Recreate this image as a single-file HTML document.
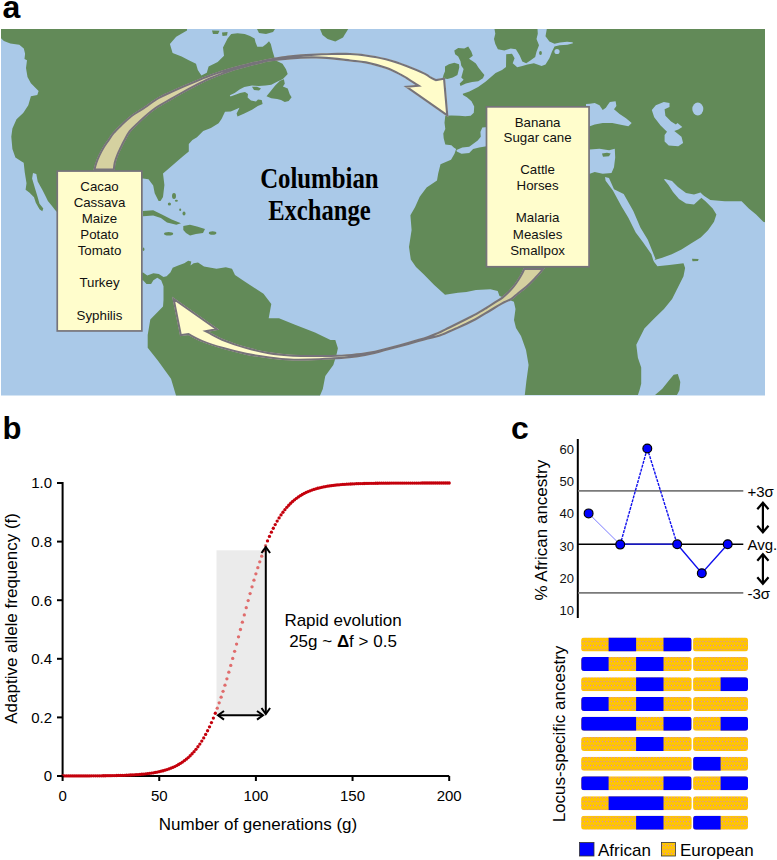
<!DOCTYPE html>
<html><head><meta charset="utf-8"><style>
html,body{margin:0;padding:0;background:#fff;}
body{width:777px;height:860px;overflow:hidden;font-family:"Liberation Sans",sans-serif;}
svg{display:block;}
</style></head><body>
<svg width="777" height="860" viewBox="0 0 777 860">
<rect width="777" height="860" fill="#fff"/>
<defs>
<linearGradient id="ga" gradientUnits="userSpaceOnUse" x1="150" y1="120" x2="330" y2="55"><stop offset="0" stop-color="#d5d1a0"/><stop offset="0.7" stop-color="#e6e0b0"/><stop offset="1" stop-color="#fffcca"/></linearGradient>
<linearGradient id="gb" gradientUnits="userSpaceOnUse" x1="500" y1="300" x2="300" y2="355"><stop offset="0" stop-color="#d5d1a0"/><stop offset="0.5" stop-color="#e2dcab"/><stop offset="1" stop-color="#fffcca"/></linearGradient>
</defs>
<filter id="soft" x="-2%" y="-2%" width="104%" height="104%"><feGaussianBlur stdDeviation="0.55"/></filter>
<g filter="url(#soft)">
<rect x="1" y="29" width="764" height="366.5" fill="#aac9e8"/>
<polygon points="1.0,29.0 187.0,29.0 187.0,30.5 176.2,36.8 169.9,44.0 172.6,53.0 181.6,56.6 188.8,60.2 196.0,63.8 197.8,70.1 201.4,75.5 206.8,72.8 208.6,66.5 217.7,62.0 224.0,55.7 223.0,47.6 227.6,38.6 231.2,34.1 237.5,33.2 244.7,34.1 250.0,36.0 254.6,38.6 255.5,42.2 257.3,46.7 262.7,46.7 266.3,44.0 269.0,41.3 270.8,44.0 272.6,51.2 275.3,60.2 282.5,63.8 286.0,69.2 287.7,74.0 286.8,75.0 282.9,78.9 277.1,81.8 271.3,84.7 265.5,85.6 258.8,86.1 252.0,85.6 244.3,87.1 239.5,89.5 234.7,92.9 229.8,95.3 230.5,96.5 236.0,94.5 240.0,93.0 245.0,92.0 248.0,94.0 247.6,97.5 251.0,100.5 256.0,101.5 258.0,99.5 261.7,100.1 262.6,104.0 257.8,105.9 252.0,109.7 244.3,113.6 237.5,116.5 236.6,113.6 239.5,107.8 230.8,111.5 225.0,111.7 221.7,118.7 218.6,123.3 210.9,128.0 203.2,131.0 197.0,137.2 192.4,140.0 188.8,143.9 188.8,151.6 182.4,156.7 172.0,165.7 163.0,173.5 164.4,185.0 163.0,197.0 160.5,201.0 158.6,200.9 154.7,193.2 153.2,185.4 148.5,179.3 143.0,178.6 120.0,180.0 75.0,200.0 57.0,212.0 55.3,210.2 51.6,205.6 47.9,200.9 45.1,195.3 42.3,189.8 37.7,181.4 36.3,174.0 33.0,173.0 32.1,178.6 34.9,187.9 37.7,197.2 39.5,203.7 43.3,208.4 42.3,211.2 39.5,209.3 35.8,202.8 34.0,197.2 29.3,192.6 25.6,189.8 26.5,183.3 24.7,172.1 23.7,162.8 21.6,161.5 15.4,157.4 12.4,149.1 11.3,136.8 12.4,128.5 16.5,119.3 23.2,113.0 28.3,105.2 30.9,96.2 37.3,94.9 38.6,91.0 30.9,83.3 27.5,77.0 26.0,68.0 27.0,60.2 24.5,58.9 25.1,53.7 23.8,48.6 19.3,44.7 10.3,43.4 3.9,40.9 1.0,38.3 1.0,30.0" fill="#628a58" />
<polygon points="266.5,96.2 270.4,91.4 275.2,85.6 280.0,80.8 283.9,79.3 284.8,83.7 282.9,86.6 287.7,88.5 289.7,94.3 291.6,97.2 288.7,101.0 284.8,102.0 281.0,100.1 277.1,99.1 271.3,98.2" fill="#628a58" />
<polygon points="252.0,86.8 257.0,86.8 261.0,88.5 259.0,90.5 254.0,90.0" fill="#628a58" />
<polygon points="320.0,29.0 348.2,29.0 343.0,37.6 335.3,41.4 327.6,38.9 322.5,35.0" fill="#628a58" />
<polygon points="212.0,30.5 219.5,30.8 218.0,34.0 213.0,34.0" fill="#628a58" />
<polygon points="222.0,32.5 227.6,32.0 227.0,35.5 222.5,36.0" fill="#628a58" />
<polygon points="257.0,29.0 275.0,29.0 273.0,32.0 266.0,34.0 259.0,33.0" fill="#628a58" />
<polygon points="546.8,29.0 765.0,29.0 765.0,222.3 763.3,221.7 756.1,214.5 748.8,208.5 741.6,201.3 724.8,201.3 710.3,200.1 703.5,195.5 701.0,197.5 705.5,201.3 712.7,208.5 716.4,214.5 714.0,221.7 708.0,230.2 700.7,237.4 691.0,243.4 681.5,249.4 671.8,254.2 662.2,257.8 653.8,260.3 653.8,261.5 657.4,266.3 669.4,265.1 683.5,263.3 685.1,268.1 683.5,276.3 677.0,289.3 672.1,299.1 664.0,308.9 654.2,318.6 644.4,328.4 639.5,338.2 636.3,344.7 637.9,357.7 641.2,367.5 641.2,383.8 639.5,390.3 637.9,395.0 524.8,395.0 526.3,381.8 528.6,365.0 526.0,350.0 521.0,336.0 516.0,328.0 514.0,320.0 515.5,309.0 513.9,301.8 505.0,298.0 499.5,296.0 497.7,291.0 490.4,289.2 476.0,290.0 466.4,292.0 458.0,292.8 445.0,294.8 434.2,284.9 423.4,274.0 416.0,267.0 410.8,259.6 409.0,247.0 411.6,230.0 410.4,215.3 415.0,207.2 419.7,196.7 426.6,187.5 437.0,180.5 438.2,173.6 440.5,164.3 451.0,159.7 454.5,153.7 456.1,149.1 453.8,147.5 451.4,145.2 445.3,144.4 443.7,138.2 443.3,133.6 445.3,129.0 444.5,122.8 445.3,115.8 451.4,115.5 459.2,115.8 465.3,116.2 470.7,115.8 473.8,112.8 474.2,106.6 471.5,101.2 466.9,97.3 463.0,95.0 462.8,93.7 469.4,91.5 478.1,87.0 485.8,81.6 495.6,72.9 502.0,70.0 506.0,67.0 506.2,54.3 512.0,53.7 514.6,58.2 512.7,63.3 517.2,67.2 522.3,65.9 527.5,64.6 533.9,63.3 541.6,65.9 545.5,64.6 549.4,58.2 551.9,51.7 554.5,46.6 559.6,45.3 567.4,44.7 573.0,43.2 572.5,42.2 567.0,41.8 560.0,42.6 554.5,43.8 549.4,41.4 545.5,36.3 546.8,29.0" fill="#628a58" />
<polygon points="454.3,50.4 458.2,48.0 464.3,48.4 468.2,46.5 471.3,51.5 472.8,55.8 469.0,58.8 472.8,61.2 475.9,63.5 478.2,67.3 481.3,71.2 484.4,75.1 482.9,78.2 478.2,81.2 472.1,82.0 465.9,83.6 460.5,85.9 459.7,83.6 463.6,79.7 461.3,77.4 462.8,72.0 463.6,68.9 461.3,65.8 460.5,61.2 458.2,56.5 455.1,54.2" fill="#628a58" />
<polygon points="445.0,66.6 448.9,64.3 454.3,62.7 459.0,64.3 459.3,67.3 458.2,72.0 457.4,75.1 452.8,77.4 447.4,78.9 442.7,78.2 443.5,75.1 445.0,71.2" fill="#628a58" />
<polygon points="494.5,29.0 537.5,29.0 537.8,33.7 536.5,38.9 539.0,45.3 536.5,51.7 535.2,56.9 530.0,60.7 526.2,63.3 522.3,61.4 519.7,55.6 515.9,49.2 510.7,48.5 504.3,50.5 497.9,49.2 495.3,44.0 494.0,38.9 495.3,33.7" fill="#628a58" />
<polygon points="135.0,272.4 143.0,272.4 147.3,275.5 153.4,273.2 158.8,274.0 163.5,277.1 166.6,276.3 170.4,272.4 172.7,267.8 178.2,265.5 184.3,263.2 188.2,260.8 191.3,261.6 190.5,265.5 193.6,263.2 198.0,262.4 204.0,266.5 216.5,268.8 225.8,267.3 232.0,268.8 235.0,275.0 244.3,281.2 250.0,285.0 263.5,293.8 271.3,304.0 268.7,318.2 279.0,318.2 294.4,324.6 315.0,332.4 330.5,340.0 335.3,340.0 337.9,348.2 336.3,355.4 333.3,365.0 325.3,376.0 322.8,389.0 320.0,395.5 176.0,395.5 171.0,378.7 158.0,360.7 147.7,347.8 147.7,335.0 150.3,319.5 163.0,306.6 163.5,300.0 163.5,286.3 161.2,280.2 157.3,277.8 153.4,280.2 151.1,284.0 146.5,284.0 143.0,280.2 135.0,280.0" fill="#628a58" />
<polygon points="143.0,211.0 153.2,210.2 162.4,214.8 171.7,219.4 181.0,223.3 176.3,224.8 167.0,222.5 160.9,217.9 153.2,215.6 143.0,216.3" fill="#628a58" />
<polygon points="183.3,226.0 190.0,224.8 197.0,226.5 205.0,229.0 203.0,233.0 196.0,234.0 190.0,235.6 186.0,233.0 183.3,230.0" fill="#628a58" />
<polygon points="655.0,395.0 662.3,388.7 668.9,380.5 673.7,374.8 677.8,374.0 680.3,382.1 679.4,390.3 677.0,395.0" fill="#628a58" />
<polygon points="692.0,258.7 698.6,259.0 698.0,261.0 692.5,261.2" fill="#628a58" />
<polygon points="456.5,150.0 462.3,147.5 469.2,146.7 472.3,144.4 477.7,140.6 480.8,136.7 480.4,132.0 482.3,127.4 488.0,127.0 488.0,146.0 479.2,147.5 473.1,149.0 469.2,152.9 461.5,153.7 456.8,151.4" fill="#aac9e8" />
<polygon points="586.0,149.5 589.8,149.5 599.5,148.7 609.1,150.3 614.8,148.7 615.2,157.6 614.0,167.2 611.5,172.9 602.7,173.7 594.7,172.0 589.8,173.7 586.0,173.7" fill="#aac9e8" />
<polygon points="586.0,104.0 589.8,103.7 594.7,102.9 599.5,105.3 602.7,110.1 605.9,107.7 607.5,105.3 609.9,102.1 615.6,101.3 616.4,106.1 614.0,109.3 619.6,114.1 626.0,118.2 631.7,123.0 628.4,126.2 622.0,125.1 612.3,123.0 602.7,123.0 594.7,124.6 589.8,126.2 586.0,126.5" fill="#aac9e8" />
<polygon points="651.8,110.1 655.8,105.3 663.8,102.1 669.5,102.9 669.5,106.9 664.6,109.3 665.4,115.7 671.1,121.4 675.9,124.6 677.5,123.0 682.3,127.0 678.3,129.4 674.3,131.0 681.5,136.7 683.1,143.1 678.3,146.3 668.7,145.5 664.6,141.5 664.6,135.0 667.0,131.8 660.6,125.4 654.2,117.3" fill="#aac9e8" />
<polygon points="605.0,177.0 605.6,180.8 612.9,190.5 621.3,206.1 628.5,218.1 635.7,232.6 643.0,242.2 651.4,254.2 653.5,261.0 655.5,259.0 652.6,251.8 647.8,239.8 640.5,227.8 633.3,210.9 623.7,194.0 614.0,189.3 609.0,178.0" fill="#aac9e8" />
<polygon points="665.0,179.0 672.0,181.0 678.0,187.0 686.0,193.0 694.0,194.5 700.5,192.5 704.0,196.0 700.0,199.0 694.0,204.5 686.0,203.5 679.0,199.0 673.0,192.0 668.5,185.0 664.0,179.5" fill="#aac9e8" />
<ellipse cx="697.8" cy="109" rx="5.5" ry="6.5" fill="#aac9e8"/>
<ellipse cx="557" cy="51.5" rx="2.6" ry="2.6" fill="#aac9e8"/>
<ellipse cx="540.5" cy="53" rx="1.4" ry="2" fill="#628a58"/>
<polygon points="602.0,153.5 607.0,152.7 610.7,153.5 609.0,156.3 603.0,156.8" fill="#628a58" />
<ellipse cx="143.5" cy="249.2" rx="0.9" ry="1.8" fill="#628a58"/>
<ellipse cx="168.6" cy="233.7" rx="4.6" ry="1.8" fill="#628a58"/>
<ellipse cx="212.6" cy="233" rx="3.8" ry="1.8" fill="#628a58"/>
<ellipse cx="174" cy="196" rx="2" ry="3" fill="#628a58"/>
<ellipse cx="169.4" cy="204" rx="1.6" ry="1.5" fill="#628a58"/>
<ellipse cx="176.4" cy="200.8" rx="1.5" ry="1" fill="#628a58"/>
<ellipse cx="180.2" cy="209.8" rx="1" ry="1.3" fill="#628a58"/>
<ellipse cx="184" cy="213.6" rx="1.5" ry="2" fill="#628a58"/>
</g>
<clipPath id="cU"><path d="M93.10,170.50 C93.45,169.23 94.33,165.45 95.20,162.90 C96.07,160.35 97.10,157.78 98.30,155.20 C99.50,152.62 100.85,149.98 102.40,147.40 C103.95,144.82 105.88,142.18 107.60,139.70 C109.32,137.22 110.58,135.00 112.70,132.50 C114.82,130.00 117.32,127.55 120.30,124.70 C123.28,121.85 127.17,118.05 130.60,115.40 C134.03,112.75 138.50,110.37 140.90,108.80 C143.30,107.23 142.17,107.93 145.00,106.00 C147.83,104.07 153.62,99.68 157.90,97.20 C162.18,94.72 166.42,93.08 170.70,91.10 C174.98,89.12 179.43,87.12 183.60,85.30 C187.77,83.48 191.53,81.90 195.70,80.20 C199.87,78.50 204.30,76.70 208.60,75.10 C212.90,73.50 217.20,72.00 221.50,70.60 C225.80,69.20 230.12,67.88 234.40,66.70 C238.68,65.52 242.92,64.55 247.20,63.50 C251.48,62.45 256.30,61.25 260.10,60.40 C263.90,59.55 264.92,59.25 270.00,58.40 C275.08,57.55 283.73,56.07 290.60,55.30 C297.47,54.53 304.33,54.18 311.20,53.80 C318.07,53.42 325.33,53.13 331.80,53.00 C338.27,52.87 344.37,52.77 350.00,53.00 C355.63,53.23 359.57,53.52 365.60,54.40 C371.63,55.28 379.33,56.53 386.20,58.30 C393.07,60.07 400.33,62.60 406.80,65.00 C413.27,67.40 420.97,70.78 425.00,72.70 C429.03,74.62 429.17,75.45 431.00,76.50 C432.83,77.55 435.17,78.58 436.00,79.00 L445.00,77.50 L448.50,117.50 L403.50,85.90 L415.50,85.00 L415.50,85.00 C414.33,84.25 410.82,81.95 408.50,80.50 C406.18,79.05 405.32,78.20 401.60,76.30 C397.88,74.40 392.20,71.25 386.20,69.10 C380.20,66.95 371.63,64.67 365.60,63.40 C359.57,62.13 355.63,62.17 350.00,61.50 C344.37,60.83 338.27,59.92 331.80,59.40 C325.33,58.88 318.07,58.40 311.20,58.40 C304.33,58.40 297.47,58.88 290.60,59.40 C283.73,59.92 275.08,60.77 270.00,61.50 C264.92,62.23 263.90,62.90 260.10,63.80 C256.30,64.70 251.48,65.77 247.20,66.90 C242.92,68.03 238.68,69.23 234.40,70.60 C230.12,71.97 225.80,73.50 221.50,75.10 C217.20,76.70 213.02,78.23 208.60,80.20 C204.18,82.17 199.17,84.77 195.00,86.90 C190.83,89.03 187.65,90.75 183.60,93.00 C179.55,95.25 174.98,97.93 170.70,100.40 C166.42,102.87 162.02,105.03 157.90,107.80 C153.78,110.57 149.27,114.27 146.00,117.00 C142.73,119.73 140.87,121.72 138.30,124.20 C135.73,126.68 132.80,129.05 130.60,131.90 C128.40,134.75 126.62,138.53 125.10,141.30 C123.58,144.07 122.62,146.18 121.50,148.50 C120.38,150.82 119.35,152.80 118.40,155.20 C117.45,157.60 116.40,160.35 115.80,162.90 C115.20,165.45 114.97,169.23 114.80,170.50 Z"/></clipPath><clipPath id="cL"><path d="M523.50,268.00 C523.12,268.83 522.22,271.10 521.20,273.00 C520.18,274.90 518.78,277.27 517.40,279.40 C516.02,281.53 514.52,283.77 512.90,285.80 C511.28,287.83 509.53,289.78 507.70,291.60 C505.87,293.42 504.18,295.00 501.90,296.70 C499.62,298.40 496.82,299.98 494.00,301.80 C491.18,303.62 488.00,305.73 485.00,307.60 C482.00,309.47 479.00,311.35 476.00,313.00 C473.00,314.65 470.00,316.00 467.00,317.50 C464.00,319.00 461.00,320.50 458.00,322.00 C455.00,323.50 452.00,325.00 449.00,326.50 C446.00,328.00 443.52,329.43 440.00,331.00 C436.48,332.57 433.13,334.12 427.90,335.90 C422.67,337.68 415.03,339.85 408.60,341.70 C402.17,343.55 395.73,345.35 389.30,347.00 C382.87,348.65 376.25,350.45 370.00,351.60 C363.75,352.75 358.27,353.35 351.80,353.90 C345.33,354.45 338.07,354.73 331.20,354.90 C324.33,355.07 317.47,354.98 310.60,354.90 C303.73,354.82 296.90,354.87 290.00,354.40 C283.10,353.93 276.53,353.37 269.20,352.10 C261.87,350.83 253.33,348.85 246.00,346.80 C238.67,344.75 231.37,342.32 225.20,339.80 C219.03,337.28 211.70,333.05 209.00,331.70 L219.40,329.80 L172.00,296.50 L180.00,336.30 L188.20,335.20 L188.20,335.20 C190.50,336.35 196.22,339.78 202.00,342.10 C207.78,344.42 215.57,346.97 222.90,349.10 C230.23,351.23 238.28,353.33 246.00,354.90 C253.72,356.47 261.87,357.55 269.20,358.50 C276.53,359.45 283.10,360.25 290.00,360.60 C296.90,360.95 303.73,360.77 310.60,360.60 C317.47,360.43 324.33,360.03 331.20,359.60 C338.07,359.17 345.33,358.77 351.80,358.00 C358.27,357.23 363.75,356.33 370.00,355.00 C376.25,353.67 382.87,351.67 389.30,350.00 C395.73,348.33 402.17,346.73 408.60,345.00 C415.03,343.27 422.67,341.02 427.90,339.60 C433.13,338.18 436.48,337.63 440.00,336.50 C443.52,335.37 446.00,334.08 449.00,332.80 C452.00,331.52 455.00,330.15 458.00,328.80 C461.00,327.45 464.00,326.13 467.00,324.70 C470.00,323.27 473.00,321.85 476.00,320.20 C479.00,318.55 482.00,316.60 485.00,314.80 C488.00,313.00 491.00,311.20 494.00,309.40 C497.00,307.60 500.07,305.57 503.00,304.00 C505.93,302.43 509.10,301.53 511.60,300.00 C514.10,298.47 515.85,296.52 518.00,294.80 C520.15,293.08 522.35,291.52 524.50,289.70 C526.65,287.88 528.98,285.73 530.90,283.90 C532.82,282.07 534.28,280.52 536.00,278.70 C537.72,276.88 539.70,274.78 541.20,273.00 C542.70,271.22 544.37,268.83 545.00,268.00 Z"/></clipPath>
<path d="M93.10,170.50 C93.45,169.23 94.33,165.45 95.20,162.90 C96.07,160.35 97.10,157.78 98.30,155.20 C99.50,152.62 100.85,149.98 102.40,147.40 C103.95,144.82 105.88,142.18 107.60,139.70 C109.32,137.22 110.58,135.00 112.70,132.50 C114.82,130.00 117.32,127.55 120.30,124.70 C123.28,121.85 127.17,118.05 130.60,115.40 C134.03,112.75 138.50,110.37 140.90,108.80 C143.30,107.23 142.17,107.93 145.00,106.00 C147.83,104.07 153.62,99.68 157.90,97.20 C162.18,94.72 166.42,93.08 170.70,91.10 C174.98,89.12 179.43,87.12 183.60,85.30 C187.77,83.48 191.53,81.90 195.70,80.20 C199.87,78.50 204.30,76.70 208.60,75.10 C212.90,73.50 217.20,72.00 221.50,70.60 C225.80,69.20 230.12,67.88 234.40,66.70 C238.68,65.52 242.92,64.55 247.20,63.50 C251.48,62.45 256.30,61.25 260.10,60.40 C263.90,59.55 264.92,59.25 270.00,58.40 C275.08,57.55 283.73,56.07 290.60,55.30 C297.47,54.53 304.33,54.18 311.20,53.80 C318.07,53.42 325.33,53.13 331.80,53.00 C338.27,52.87 344.37,52.77 350.00,53.00 C355.63,53.23 359.57,53.52 365.60,54.40 C371.63,55.28 379.33,56.53 386.20,58.30 C393.07,60.07 400.33,62.60 406.80,65.00 C413.27,67.40 420.97,70.78 425.00,72.70 C429.03,74.62 429.17,75.45 431.00,76.50 C432.83,77.55 435.17,78.58 436.00,79.00 L445.00,77.50 L448.50,117.50 L403.50,85.90 L415.50,85.00 L415.50,85.00 C414.33,84.25 410.82,81.95 408.50,80.50 C406.18,79.05 405.32,78.20 401.60,76.30 C397.88,74.40 392.20,71.25 386.20,69.10 C380.20,66.95 371.63,64.67 365.60,63.40 C359.57,62.13 355.63,62.17 350.00,61.50 C344.37,60.83 338.27,59.92 331.80,59.40 C325.33,58.88 318.07,58.40 311.20,58.40 C304.33,58.40 297.47,58.88 290.60,59.40 C283.73,59.92 275.08,60.77 270.00,61.50 C264.92,62.23 263.90,62.90 260.10,63.80 C256.30,64.70 251.48,65.77 247.20,66.90 C242.92,68.03 238.68,69.23 234.40,70.60 C230.12,71.97 225.80,73.50 221.50,75.10 C217.20,76.70 213.02,78.23 208.60,80.20 C204.18,82.17 199.17,84.77 195.00,86.90 C190.83,89.03 187.65,90.75 183.60,93.00 C179.55,95.25 174.98,97.93 170.70,100.40 C166.42,102.87 162.02,105.03 157.90,107.80 C153.78,110.57 149.27,114.27 146.00,117.00 C142.73,119.73 140.87,121.72 138.30,124.20 C135.73,126.68 132.80,129.05 130.60,131.90 C128.40,134.75 126.62,138.53 125.10,141.30 C123.58,144.07 122.62,146.18 121.50,148.50 C120.38,150.82 119.35,152.80 118.40,155.20 C117.45,157.60 116.40,160.35 115.80,162.90 C115.20,165.45 114.97,169.23 114.80,170.50 Z" fill="url(#ga)" stroke="#76737a" stroke-width="4.2" stroke-linejoin="miter" clip-path="url(#cU)"/>
<path d="M523.50,268.00 C523.12,268.83 522.22,271.10 521.20,273.00 C520.18,274.90 518.78,277.27 517.40,279.40 C516.02,281.53 514.52,283.77 512.90,285.80 C511.28,287.83 509.53,289.78 507.70,291.60 C505.87,293.42 504.18,295.00 501.90,296.70 C499.62,298.40 496.82,299.98 494.00,301.80 C491.18,303.62 488.00,305.73 485.00,307.60 C482.00,309.47 479.00,311.35 476.00,313.00 C473.00,314.65 470.00,316.00 467.00,317.50 C464.00,319.00 461.00,320.50 458.00,322.00 C455.00,323.50 452.00,325.00 449.00,326.50 C446.00,328.00 443.52,329.43 440.00,331.00 C436.48,332.57 433.13,334.12 427.90,335.90 C422.67,337.68 415.03,339.85 408.60,341.70 C402.17,343.55 395.73,345.35 389.30,347.00 C382.87,348.65 376.25,350.45 370.00,351.60 C363.75,352.75 358.27,353.35 351.80,353.90 C345.33,354.45 338.07,354.73 331.20,354.90 C324.33,355.07 317.47,354.98 310.60,354.90 C303.73,354.82 296.90,354.87 290.00,354.40 C283.10,353.93 276.53,353.37 269.20,352.10 C261.87,350.83 253.33,348.85 246.00,346.80 C238.67,344.75 231.37,342.32 225.20,339.80 C219.03,337.28 211.70,333.05 209.00,331.70 L219.40,329.80 L172.00,296.50 L180.00,336.30 L188.20,335.20 L188.20,335.20 C190.50,336.35 196.22,339.78 202.00,342.10 C207.78,344.42 215.57,346.97 222.90,349.10 C230.23,351.23 238.28,353.33 246.00,354.90 C253.72,356.47 261.87,357.55 269.20,358.50 C276.53,359.45 283.10,360.25 290.00,360.60 C296.90,360.95 303.73,360.77 310.60,360.60 C317.47,360.43 324.33,360.03 331.20,359.60 C338.07,359.17 345.33,358.77 351.80,358.00 C358.27,357.23 363.75,356.33 370.00,355.00 C376.25,353.67 382.87,351.67 389.30,350.00 C395.73,348.33 402.17,346.73 408.60,345.00 C415.03,343.27 422.67,341.02 427.90,339.60 C433.13,338.18 436.48,337.63 440.00,336.50 C443.52,335.37 446.00,334.08 449.00,332.80 C452.00,331.52 455.00,330.15 458.00,328.80 C461.00,327.45 464.00,326.13 467.00,324.70 C470.00,323.27 473.00,321.85 476.00,320.20 C479.00,318.55 482.00,316.60 485.00,314.80 C488.00,313.00 491.00,311.20 494.00,309.40 C497.00,307.60 500.07,305.57 503.00,304.00 C505.93,302.43 509.10,301.53 511.60,300.00 C514.10,298.47 515.85,296.52 518.00,294.80 C520.15,293.08 522.35,291.52 524.50,289.70 C526.65,287.88 528.98,285.73 530.90,283.90 C532.82,282.07 534.28,280.52 536.00,278.70 C537.72,276.88 539.70,274.78 541.20,273.00 C542.70,271.22 544.37,268.83 545.00,268.00 Z" fill="url(#gb)" stroke="#76737a" stroke-width="4.2" stroke-linejoin="miter" clip-path="url(#cL)"/>
<rect x="57.25" y="171.05" width="84.6" height="159.9" fill="#fffdcc" stroke="#76737a" stroke-width="1.7"/>
<rect x="486.5" y="106.85" width="102.55" height="159.9" fill="#fffdcc" stroke="#76737a" stroke-width="1.7"/>
<text x="99.5" y="191.3" font-family="Liberation Sans" font-size="13.3" fill="#111" text-anchor="middle">Cacao</text>
<text x="99.5" y="206.9" font-family="Liberation Sans" font-size="13.3" fill="#111" text-anchor="middle">Cassava</text>
<text x="99.5" y="223.0" font-family="Liberation Sans" font-size="13.3" fill="#111" text-anchor="middle">Maize</text>
<text x="99.5" y="239" font-family="Liberation Sans" font-size="13.3" fill="#111" text-anchor="middle">Potato</text>
<text x="99.5" y="254.9" font-family="Liberation Sans" font-size="13.3" fill="#111" text-anchor="middle">Tomato</text>
<text x="99.5" y="286.6" font-family="Liberation Sans" font-size="13.3" fill="#111" text-anchor="middle">Turkey</text>
<text x="99.5" y="319.6" font-family="Liberation Sans" font-size="13.3" fill="#111" text-anchor="middle">Syphilis</text>
<text x="537.6" y="126.5" font-family="Liberation Sans" font-size="13.3" fill="#111" text-anchor="middle">Banana</text>
<text x="537.6" y="141.8" font-family="Liberation Sans" font-size="13.3" fill="#111" text-anchor="middle">Sugar cane</text>
<text x="537.6" y="174.1" font-family="Liberation Sans" font-size="13.3" fill="#111" text-anchor="middle">Cattle</text>
<text x="537.6" y="190.2" font-family="Liberation Sans" font-size="13.3" fill="#111" text-anchor="middle">Horses</text>
<text x="537.6" y="222.4" font-family="Liberation Sans" font-size="13.3" fill="#111" text-anchor="middle">Malaria</text>
<text x="537.6" y="238.6" font-family="Liberation Sans" font-size="13.3" fill="#111" text-anchor="middle">Measles</text>
<text x="537.6" y="254.6" font-family="Liberation Sans" font-size="13.3" fill="#111" text-anchor="middle">Smallpox</text>
<text x="319.4" y="188" font-family="Liberation Serif" font-weight="bold" font-size="29.5" text-anchor="middle" fill="#000" textLength="118.5" lengthAdjust="spacingAndGlyphs">Columbian</text>
<text x="319.4" y="219.5" font-family="Liberation Serif" font-weight="bold" font-size="29.5" text-anchor="middle" fill="#000" textLength="102.5" lengthAdjust="spacingAndGlyphs">Exchange</text>
<rect x="216.5" y="550.3" width="48.5" height="164.5" fill="#ebebeb"/>
<path d="M57,483 H62.6 V776 H449.2" fill="none" stroke="#000" stroke-width="2"/>
<circle cx="62.60" cy="775.97" r="1.65" fill="#c4000c"/>
<circle cx="64.53" cy="775.97" r="1.65" fill="#c4000c"/>
<circle cx="66.47" cy="775.96" r="1.65" fill="#c4000c"/>
<circle cx="68.40" cy="775.96" r="1.65" fill="#c4000c"/>
<circle cx="70.33" cy="775.96" r="1.65" fill="#c4000c"/>
<circle cx="72.27" cy="775.95" r="1.65" fill="#c4000c"/>
<circle cx="74.20" cy="775.95" r="1.65" fill="#c4000c"/>
<circle cx="76.13" cy="775.94" r="1.65" fill="#c4000c"/>
<circle cx="78.06" cy="775.93" r="1.65" fill="#c4000c"/>
<circle cx="80.00" cy="775.93" r="1.65" fill="#c4000c"/>
<circle cx="81.93" cy="775.92" r="1.65" fill="#c4000c"/>
<circle cx="83.86" cy="775.91" r="1.65" fill="#c4000c"/>
<circle cx="85.80" cy="775.90" r="1.65" fill="#c4000c"/>
<circle cx="87.73" cy="775.89" r="1.65" fill="#c4000c"/>
<circle cx="89.66" cy="775.88" r="1.65" fill="#c4000c"/>
<circle cx="91.59" cy="775.87" r="1.65" fill="#c4000c"/>
<circle cx="93.53" cy="775.85" r="1.65" fill="#c4000c"/>
<circle cx="95.46" cy="775.84" r="1.65" fill="#c4000c"/>
<circle cx="97.39" cy="775.82" r="1.65" fill="#c4000c"/>
<circle cx="99.33" cy="775.80" r="1.65" fill="#c4000c"/>
<circle cx="101.26" cy="775.78" r="1.65" fill="#c4000c"/>
<circle cx="103.19" cy="775.76" r="1.65" fill="#c4000c"/>
<circle cx="105.13" cy="775.73" r="1.65" fill="#c4000c"/>
<circle cx="107.06" cy="775.71" r="1.65" fill="#c4000c"/>
<circle cx="108.99" cy="775.67" r="1.65" fill="#c4000c"/>
<circle cx="110.93" cy="775.64" r="1.65" fill="#c4000c"/>
<circle cx="112.86" cy="775.60" r="1.65" fill="#c4000c"/>
<circle cx="114.79" cy="775.56" r="1.65" fill="#c4000c"/>
<circle cx="116.72" cy="775.51" r="1.65" fill="#c4000c"/>
<circle cx="118.66" cy="775.46" r="1.65" fill="#c4000c"/>
<circle cx="120.59" cy="775.41" r="1.65" fill="#c4000c"/>
<circle cx="122.52" cy="775.34" r="1.65" fill="#c4000c"/>
<circle cx="124.46" cy="775.28" r="1.65" fill="#c4000c"/>
<circle cx="126.39" cy="775.20" r="1.65" fill="#c4000c"/>
<circle cx="128.32" cy="775.12" r="1.65" fill="#c4000c"/>
<circle cx="130.25" cy="775.02" r="1.65" fill="#c4000c"/>
<circle cx="132.19" cy="774.92" r="1.65" fill="#c4000c"/>
<circle cx="134.12" cy="774.81" r="1.65" fill="#c4000c"/>
<circle cx="136.05" cy="774.68" r="1.65" fill="#c4000c"/>
<circle cx="137.99" cy="774.54" r="1.65" fill="#c4000c"/>
<circle cx="139.92" cy="774.39" r="1.65" fill="#c4000c"/>
<circle cx="141.85" cy="774.22" r="1.65" fill="#c4000c"/>
<circle cx="143.79" cy="774.04" r="1.65" fill="#c4000c"/>
<circle cx="145.72" cy="773.83" r="1.65" fill="#c4000c"/>
<circle cx="147.65" cy="773.61" r="1.65" fill="#c4000c"/>
<circle cx="149.59" cy="773.36" r="1.65" fill="#c4000c"/>
<circle cx="151.52" cy="773.08" r="1.65" fill="#c4000c"/>
<circle cx="153.45" cy="772.78" r="1.65" fill="#c4000c"/>
<circle cx="155.38" cy="772.45" r="1.65" fill="#c4000c"/>
<circle cx="157.32" cy="772.08" r="1.65" fill="#c4000c"/>
<circle cx="159.25" cy="771.67" r="1.65" fill="#c4000c"/>
<circle cx="161.18" cy="771.22" r="1.65" fill="#c4000c"/>
<circle cx="163.12" cy="770.73" r="1.65" fill="#c4000c"/>
<circle cx="165.05" cy="770.19" r="1.65" fill="#c4000c"/>
<circle cx="166.98" cy="769.59" r="1.65" fill="#c4000c"/>
<circle cx="168.91" cy="768.93" r="1.65" fill="#c4000c"/>
<circle cx="170.85" cy="768.21" r="1.65" fill="#c4000c"/>
<circle cx="172.78" cy="767.41" r="1.65" fill="#c4000c"/>
<circle cx="174.71" cy="766.54" r="1.65" fill="#c4000c"/>
<circle cx="176.65" cy="765.58" r="1.65" fill="#c4000c"/>
<circle cx="178.58" cy="764.52" r="1.65" fill="#c4000c"/>
<circle cx="180.51" cy="763.37" r="1.65" fill="#c4000c"/>
<circle cx="182.45" cy="762.10" r="1.65" fill="#c4000c"/>
<circle cx="184.38" cy="760.72" r="1.65" fill="#c4000c"/>
<circle cx="186.31" cy="759.20" r="1.65" fill="#c4000c"/>
<circle cx="188.25" cy="757.55" r="1.65" fill="#c4000c"/>
<circle cx="190.18" cy="755.74" r="1.65" fill="#c4000c"/>
<circle cx="192.11" cy="753.77" r="1.65" fill="#c4000c"/>
<circle cx="194.04" cy="751.63" r="1.65" fill="#c4000c"/>
<circle cx="195.98" cy="749.30" r="1.65" fill="#c4000c"/>
<circle cx="197.91" cy="746.77" r="1.65" fill="#c4000c"/>
<circle cx="199.84" cy="744.03" r="1.65" fill="#c4000c"/>
<circle cx="201.78" cy="741.07" r="1.65" fill="#c4000c"/>
<circle cx="203.71" cy="737.88" r="1.65" fill="#c4000c"/>
<circle cx="205.64" cy="734.44" r="1.65" fill="#c4000c"/>
<circle cx="207.57" cy="730.74" r="1.65" fill="#c4000c"/>
<circle cx="209.51" cy="726.78" r="1.65" fill="#c4000c"/>
<circle cx="211.44" cy="722.55" r="1.65" fill="#c4000c"/>
<circle cx="213.37" cy="718.04" r="1.65" fill="#c4000c"/>
<circle cx="215.31" cy="713.25" r="1.65" fill="#c4000c"/>
<circle cx="217.24" cy="708.18" r="1.65" fill="#e06c6c"/>
<circle cx="219.17" cy="702.83" r="1.65" fill="#e06c6c"/>
<circle cx="221.11" cy="697.20" r="1.65" fill="#e06c6c"/>
<circle cx="223.04" cy="691.31" r="1.65" fill="#e06c6c"/>
<circle cx="224.97" cy="685.16" r="1.65" fill="#e06c6c"/>
<circle cx="226.91" cy="678.78" r="1.65" fill="#e06c6c"/>
<circle cx="228.84" cy="672.18" r="1.65" fill="#e06c6c"/>
<circle cx="230.77" cy="665.38" r="1.65" fill="#e06c6c"/>
<circle cx="232.70" cy="658.42" r="1.65" fill="#e06c6c"/>
<circle cx="234.64" cy="651.31" r="1.65" fill="#e06c6c"/>
<circle cx="236.57" cy="644.10" r="1.65" fill="#e06c6c"/>
<circle cx="238.50" cy="636.82" r="1.65" fill="#e06c6c"/>
<circle cx="240.44" cy="629.50" r="1.65" fill="#e06c6c"/>
<circle cx="242.37" cy="622.18" r="1.65" fill="#e06c6c"/>
<circle cx="244.30" cy="614.90" r="1.65" fill="#e06c6c"/>
<circle cx="246.23" cy="607.69" r="1.65" fill="#e06c6c"/>
<circle cx="248.17" cy="600.58" r="1.65" fill="#e06c6c"/>
<circle cx="250.10" cy="593.62" r="1.65" fill="#e06c6c"/>
<circle cx="252.03" cy="586.82" r="1.65" fill="#e06c6c"/>
<circle cx="253.97" cy="580.22" r="1.65" fill="#e06c6c"/>
<circle cx="255.90" cy="573.84" r="1.65" fill="#e06c6c"/>
<circle cx="257.83" cy="567.69" r="1.65" fill="#e06c6c"/>
<circle cx="259.77" cy="561.80" r="1.65" fill="#e06c6c"/>
<circle cx="261.70" cy="556.17" r="1.65" fill="#e06c6c"/>
<circle cx="263.63" cy="550.82" r="1.65" fill="#e06c6c"/>
<circle cx="265.56" cy="545.75" r="1.65" fill="#e06c6c"/>
<circle cx="267.50" cy="540.96" r="1.65" fill="#c4000c"/>
<circle cx="269.43" cy="536.45" r="1.65" fill="#c4000c"/>
<circle cx="271.36" cy="532.22" r="1.65" fill="#c4000c"/>
<circle cx="273.30" cy="528.26" r="1.65" fill="#c4000c"/>
<circle cx="275.23" cy="524.56" r="1.65" fill="#c4000c"/>
<circle cx="277.16" cy="521.12" r="1.65" fill="#c4000c"/>
<circle cx="279.10" cy="517.93" r="1.65" fill="#c4000c"/>
<circle cx="281.03" cy="514.97" r="1.65" fill="#c4000c"/>
<circle cx="282.96" cy="512.23" r="1.65" fill="#c4000c"/>
<circle cx="284.90" cy="509.70" r="1.65" fill="#c4000c"/>
<circle cx="286.83" cy="507.37" r="1.65" fill="#c4000c"/>
<circle cx="288.76" cy="505.23" r="1.65" fill="#c4000c"/>
<circle cx="290.69" cy="503.26" r="1.65" fill="#c4000c"/>
<circle cx="292.63" cy="501.45" r="1.65" fill="#c4000c"/>
<circle cx="294.56" cy="499.80" r="1.65" fill="#c4000c"/>
<circle cx="296.49" cy="498.28" r="1.65" fill="#c4000c"/>
<circle cx="298.43" cy="496.90" r="1.65" fill="#c4000c"/>
<circle cx="300.36" cy="495.63" r="1.65" fill="#c4000c"/>
<circle cx="302.29" cy="494.48" r="1.65" fill="#c4000c"/>
<circle cx="304.23" cy="493.42" r="1.65" fill="#c4000c"/>
<circle cx="306.16" cy="492.46" r="1.65" fill="#c4000c"/>
<circle cx="308.09" cy="491.59" r="1.65" fill="#c4000c"/>
<circle cx="310.02" cy="490.79" r="1.65" fill="#c4000c"/>
<circle cx="311.96" cy="490.07" r="1.65" fill="#c4000c"/>
<circle cx="313.89" cy="489.41" r="1.65" fill="#c4000c"/>
<circle cx="315.82" cy="488.81" r="1.65" fill="#c4000c"/>
<circle cx="317.76" cy="488.27" r="1.65" fill="#c4000c"/>
<circle cx="319.69" cy="487.78" r="1.65" fill="#c4000c"/>
<circle cx="321.62" cy="487.33" r="1.65" fill="#c4000c"/>
<circle cx="323.56" cy="486.92" r="1.65" fill="#c4000c"/>
<circle cx="325.49" cy="486.55" r="1.65" fill="#c4000c"/>
<circle cx="327.42" cy="486.22" r="1.65" fill="#c4000c"/>
<circle cx="329.35" cy="485.92" r="1.65" fill="#c4000c"/>
<circle cx="331.29" cy="485.64" r="1.65" fill="#c4000c"/>
<circle cx="333.22" cy="485.39" r="1.65" fill="#c4000c"/>
<circle cx="335.15" cy="485.17" r="1.65" fill="#c4000c"/>
<circle cx="337.09" cy="484.96" r="1.65" fill="#c4000c"/>
<circle cx="339.02" cy="484.78" r="1.65" fill="#c4000c"/>
<circle cx="340.95" cy="484.61" r="1.65" fill="#c4000c"/>
<circle cx="342.89" cy="484.46" r="1.65" fill="#c4000c"/>
<circle cx="344.82" cy="484.32" r="1.65" fill="#c4000c"/>
<circle cx="346.75" cy="484.19" r="1.65" fill="#c4000c"/>
<circle cx="348.68" cy="484.08" r="1.65" fill="#c4000c"/>
<circle cx="350.62" cy="483.98" r="1.65" fill="#c4000c"/>
<circle cx="352.55" cy="483.88" r="1.65" fill="#c4000c"/>
<circle cx="354.48" cy="483.80" r="1.65" fill="#c4000c"/>
<circle cx="356.42" cy="483.72" r="1.65" fill="#c4000c"/>
<circle cx="358.35" cy="483.66" r="1.65" fill="#c4000c"/>
<circle cx="360.28" cy="483.59" r="1.65" fill="#c4000c"/>
<circle cx="362.22" cy="483.54" r="1.65" fill="#c4000c"/>
<circle cx="364.15" cy="483.49" r="1.65" fill="#c4000c"/>
<circle cx="366.08" cy="483.44" r="1.65" fill="#c4000c"/>
<circle cx="368.01" cy="483.40" r="1.65" fill="#c4000c"/>
<circle cx="369.95" cy="483.36" r="1.65" fill="#c4000c"/>
<circle cx="371.88" cy="483.33" r="1.65" fill="#c4000c"/>
<circle cx="373.81" cy="483.29" r="1.65" fill="#c4000c"/>
<circle cx="375.75" cy="483.27" r="1.65" fill="#c4000c"/>
<circle cx="377.68" cy="483.24" r="1.65" fill="#c4000c"/>
<circle cx="379.61" cy="483.22" r="1.65" fill="#c4000c"/>
<circle cx="381.55" cy="483.20" r="1.65" fill="#c4000c"/>
<circle cx="383.48" cy="483.18" r="1.65" fill="#c4000c"/>
<circle cx="385.41" cy="483.16" r="1.65" fill="#c4000c"/>
<circle cx="387.34" cy="483.15" r="1.65" fill="#c4000c"/>
<circle cx="389.28" cy="483.13" r="1.65" fill="#c4000c"/>
<circle cx="391.21" cy="483.12" r="1.65" fill="#c4000c"/>
<circle cx="393.14" cy="483.11" r="1.65" fill="#c4000c"/>
<circle cx="395.08" cy="483.10" r="1.65" fill="#c4000c"/>
<circle cx="397.01" cy="483.09" r="1.65" fill="#c4000c"/>
<circle cx="398.94" cy="483.08" r="1.65" fill="#c4000c"/>
<circle cx="400.88" cy="483.07" r="1.65" fill="#c4000c"/>
<circle cx="402.81" cy="483.07" r="1.65" fill="#c4000c"/>
<circle cx="404.74" cy="483.06" r="1.65" fill="#c4000c"/>
<circle cx="406.67" cy="483.05" r="1.65" fill="#c4000c"/>
<circle cx="408.61" cy="483.05" r="1.65" fill="#c4000c"/>
<circle cx="410.54" cy="483.04" r="1.65" fill="#c4000c"/>
<circle cx="412.47" cy="483.04" r="1.65" fill="#c4000c"/>
<circle cx="414.41" cy="483.04" r="1.65" fill="#c4000c"/>
<circle cx="416.34" cy="483.03" r="1.65" fill="#c4000c"/>
<circle cx="418.27" cy="483.03" r="1.65" fill="#c4000c"/>
<circle cx="420.21" cy="483.03" r="1.65" fill="#c4000c"/>
<circle cx="422.14" cy="483.02" r="1.65" fill="#c4000c"/>
<circle cx="424.07" cy="483.02" r="1.65" fill="#c4000c"/>
<circle cx="426.00" cy="483.02" r="1.65" fill="#c4000c"/>
<circle cx="427.94" cy="483.02" r="1.65" fill="#c4000c"/>
<circle cx="429.87" cy="483.02" r="1.65" fill="#c4000c"/>
<circle cx="431.80" cy="483.01" r="1.65" fill="#c4000c"/>
<circle cx="433.74" cy="483.01" r="1.65" fill="#c4000c"/>
<circle cx="435.67" cy="483.01" r="1.65" fill="#c4000c"/>
<circle cx="437.60" cy="483.01" r="1.65" fill="#c4000c"/>
<circle cx="439.54" cy="483.01" r="1.65" fill="#c4000c"/>
<circle cx="441.47" cy="483.01" r="1.65" fill="#c4000c"/>
<circle cx="443.40" cy="483.01" r="1.65" fill="#c4000c"/>
<circle cx="445.33" cy="483.01" r="1.65" fill="#c4000c"/>
<circle cx="447.27" cy="483.01" r="1.65" fill="#c4000c"/>
<circle cx="449.20" cy="483.01" r="1.65" fill="#c4000c"/>
<line x1="57" y1="776.0" x2="62.6" y2="776.0" stroke="#000" stroke-width="2"/>
<line x1="57" y1="717.4" x2="62.6" y2="717.4" stroke="#000" stroke-width="2"/>
<line x1="57" y1="658.8" x2="62.6" y2="658.8" stroke="#000" stroke-width="2"/>
<line x1="57" y1="600.1999999999999" x2="62.6" y2="600.1999999999999" stroke="#000" stroke-width="2"/>
<line x1="57" y1="541.6" x2="62.6" y2="541.6" stroke="#000" stroke-width="2"/>
<line x1="62.6" y1="776" x2="62.6" y2="781" stroke="#000" stroke-width="2"/>
<text x="62.6" y="801" font-family="Liberation Sans" font-size="15" text-anchor="middle" fill="#000">0</text>
<line x1="159.25" y1="776" x2="159.25" y2="781" stroke="#000" stroke-width="2"/>
<text x="159.25" y="801" font-family="Liberation Sans" font-size="15" text-anchor="middle" fill="#000">50</text>
<line x1="255.9" y1="776" x2="255.9" y2="781" stroke="#000" stroke-width="2"/>
<text x="255.9" y="801" font-family="Liberation Sans" font-size="15" text-anchor="middle" fill="#000">100</text>
<line x1="352.55" y1="776" x2="352.55" y2="781" stroke="#000" stroke-width="2"/>
<text x="352.55" y="801" font-family="Liberation Sans" font-size="15" text-anchor="middle" fill="#000">150</text>
<line x1="449.20000000000005" y1="776" x2="449.20000000000005" y2="781" stroke="#000" stroke-width="2"/>
<text x="449.20000000000005" y="801" font-family="Liberation Sans" font-size="15" text-anchor="middle" fill="#000">200</text>
<text x="52" y="781.3" font-family="Liberation Sans" font-size="15" text-anchor="end" fill="#000">0</text>
<text x="52" y="722.6999999999999" font-family="Liberation Sans" font-size="15" text-anchor="end" fill="#000">0.2</text>
<text x="52" y="664.0999999999999" font-family="Liberation Sans" font-size="15" text-anchor="end" fill="#000">0.4</text>
<text x="52" y="605.4999999999999" font-family="Liberation Sans" font-size="15" text-anchor="end" fill="#000">0.6</text>
<text x="52" y="546.9" font-family="Liberation Sans" font-size="15" text-anchor="end" fill="#000">0.8</text>
<text x="52" y="488.3" font-family="Liberation Sans" font-size="15" text-anchor="end" fill="#000">1.0</text>
<text x="258" y="830" font-family="Liberation Sans" font-size="17" text-anchor="middle" fill="#000">Number of generations (g)</text>
<text transform="translate(17,618.4) rotate(-90)" x="0" y="0" font-family="Liberation Sans" font-size="17" text-anchor="middle" fill="#000">Adaptive allele frequency (f)</text>
<line x1="265.8" y1="548" x2="265.8" y2="713" stroke="#000" stroke-width="2"/>
<polyline points="261.5,553 265.8,547 270.1,553" fill="none" stroke="#000" stroke-width="2"/>
<polyline points="261.5,708 265.8,714 270.1,708" fill="none" stroke="#000" stroke-width="2"/>
<line x1="218" y1="715.3" x2="263" y2="715.3" stroke="#000" stroke-width="2"/>
<polyline points="224,711 218,715.3 224,719.6" fill="none" stroke="#000" stroke-width="2"/>
<polyline points="257,711 263,715.3 257,719.6" fill="none" stroke="#000" stroke-width="2"/>
<text x="343" y="626" font-family="Liberation Sans" font-size="17" text-anchor="middle" fill="#000">Rapid evolution</text>
<text x="343" y="647" font-family="Liberation Sans" font-size="17" text-anchor="middle" fill="#000">25g ~ <tspan font-weight="bold">&#916;</tspan>f &gt; 0.5</text>
<line x1="577.8" y1="439" x2="577.8" y2="618" stroke="#000" stroke-width="2"/>
<text x="574" y="453.98999999999995" font-family="Liberation Sans" font-size="13" text-anchor="end" fill="#111">60</text>
<text x="574" y="486.1599999999999" font-family="Liberation Sans" font-size="13" text-anchor="end" fill="#111">50</text>
<text x="574" y="518.33" font-family="Liberation Sans" font-size="13" text-anchor="end" fill="#111">40</text>
<text x="574" y="550.5" font-family="Liberation Sans" font-size="13" text-anchor="end" fill="#111">30</text>
<text x="574" y="582.67" font-family="Liberation Sans" font-size="13" text-anchor="end" fill="#111">20</text>
<text x="574" y="614.84" font-family="Liberation Sans" font-size="13" text-anchor="end" fill="#111">10</text>
<line x1="578" y1="490.9" x2="743.3" y2="490.9" stroke="#7a7a7a" stroke-width="1.6"/>
<line x1="578" y1="592.9" x2="743.3" y2="592.9" stroke="#7a7a7a" stroke-width="1.6"/>
<line x1="578" y1="544.2" x2="743.3" y2="544.2" stroke="#000" stroke-width="1.6"/>
<line x1="588.6" y1="513.4" x2="620.2" y2="544.6" stroke="#5a5aff" stroke-width="0.8"/>
<polyline points="620.2,544.6 647.3,448.5 677.2,544.3" fill="none" stroke="#1010ee" stroke-width="1.4" stroke-dasharray="3,1"/>
<line x1="620.2" y1="544.2" x2="677.2" y2="544.2" stroke="#2020ff" stroke-width="1.2"/>
<polyline points="677.2,544.3 701.8,573.2 727.7,544.2" fill="none" stroke="#1010ee" stroke-width="1.4"/>
<circle cx="588.6" cy="513.4" r="4.4" fill="#0000ff" stroke="#000" stroke-width="1.2"/>
<circle cx="620.2" cy="544.6" r="4.4" fill="#0000ff" stroke="#000" stroke-width="1.2"/>
<circle cx="647.3" cy="448.5" r="4.4" fill="#0000ff" stroke="#000" stroke-width="1.2"/>
<circle cx="677.2" cy="544.3" r="4.4" fill="#0000ff" stroke="#000" stroke-width="1.2"/>
<circle cx="701.8" cy="573.2" r="4.4" fill="#0000ff" stroke="#000" stroke-width="1.2"/>
<circle cx="727.7" cy="544.2" r="4.4" fill="#0000ff" stroke="#000" stroke-width="1.2"/>
<text x="747.5" y="497" font-family="Liberation Sans" font-size="15" fill="#000">+3&#963;</text>
<text x="747.5" y="550" font-family="Liberation Sans" font-size="15" fill="#000">Avg.</text>
<text x="747.5" y="598.5" font-family="Liberation Sans" font-size="15" fill="#000">-3&#963;</text>
<line x1="762.9" y1="503.3" x2="762.9" y2="531.8" stroke="#000" stroke-width="2.2"/>
<polyline points="757.3,509.3 762.9,502.8 768.5,509.3" fill="none" stroke="#000" stroke-width="2.2"/>
<polyline points="757.3,525.8 762.9,532.3 768.5,525.8" fill="none" stroke="#000" stroke-width="2.2"/>
<line x1="762.9" y1="554.7" x2="762.9" y2="583.2" stroke="#000" stroke-width="2.2"/>
<polyline points="757.3,560.7 762.9,554.2 768.5,560.7" fill="none" stroke="#000" stroke-width="2.2"/>
<polyline points="757.3,577.2 762.9,583.7 768.5,577.2" fill="none" stroke="#000" stroke-width="2.2"/>
<text transform="translate(546.5,530.2) rotate(-90)" font-family="Liberation Sans" font-size="17" text-anchor="middle" fill="#000">% African ancestry</text>
<text transform="translate(564.5,734) rotate(-90)" font-family="Liberation Sans" font-size="17" text-anchor="middle" fill="#000">Locus-specific ancestry</text>
<defs><pattern id="dots" width="6" height="8" patternUnits="userSpaceOnUse"><rect width="6" height="8" fill="#ffc502"/><circle cx="1" cy="1.5" r="0.65" fill="#d78fb0"/><circle cx="4" cy="1.5" r="0.65" fill="#d78fb0"/><circle cx="2.5" cy="5.5" r="0.65" fill="#d78fb0"/><circle cx="5.5" cy="5.5" r="0.65" fill="#d78fb0"/></pattern></defs>
<clipPath id="cl0"><rect x="581.2" y="637.5" width="110.39999999999998" height="14" rx="3"/><rect x="693.1" y="637.5" width="54.89999999999998" height="14" rx="3"/></clipPath>
<g clip-path="url(#cl0)"><rect x="581" y="637.5" width="168" height="14" fill="url(#dots)"/><rect x="608.6" y="637.5" width="27.5" height="14" fill="#0000ff"/><rect x="663.5" y="637.5" width="28.100000000000023" height="14" fill="#0000ff"/></g>
<clipPath id="cl1"><rect x="581.2" y="657" width="110.39999999999998" height="14" rx="3"/><rect x="693.1" y="657" width="54.89999999999998" height="14" rx="3"/></clipPath>
<g clip-path="url(#cl1)"><rect x="581" y="657" width="168" height="14" fill="url(#dots)"/><rect x="581.2" y="657" width="27.399999999999977" height="14" fill="#0000ff"/><rect x="636.1" y="657" width="27.399999999999977" height="14" fill="#0000ff"/></g>
<clipPath id="cl2"><rect x="581.2" y="677.2" width="110.39999999999998" height="14" rx="3"/><rect x="693.1" y="677.2" width="54.89999999999998" height="14" rx="3"/></clipPath>
<g clip-path="url(#cl2)"><rect x="581" y="677.2" width="168" height="14" fill="url(#dots)"/><rect x="636.1" y="677.2" width="27.399999999999977" height="14" fill="#0000ff"/><rect x="720.6" y="677.2" width="27.399999999999977" height="14" fill="#0000ff"/></g>
<clipPath id="cl3"><rect x="581.2" y="697" width="110.39999999999998" height="14" rx="3"/><rect x="693.1" y="697" width="54.89999999999998" height="14" rx="3"/></clipPath>
<g clip-path="url(#cl3)"><rect x="581" y="697" width="168" height="14" fill="url(#dots)"/><rect x="581.2" y="697" width="27.399999999999977" height="14" fill="#0000ff"/><rect x="636.1" y="697" width="27.399999999999977" height="14" fill="#0000ff"/></g>
<clipPath id="cl4"><rect x="581.2" y="716.8" width="110.39999999999998" height="14" rx="3"/><rect x="693.1" y="716.8" width="54.89999999999998" height="14" rx="3"/></clipPath>
<g clip-path="url(#cl4)"><rect x="581" y="716.8" width="168" height="14" fill="url(#dots)"/><rect x="581.2" y="716.8" width="54.89999999999998" height="14" fill="#0000ff"/><rect x="663.5" y="716.8" width="28.100000000000023" height="14" fill="#0000ff"/><rect x="720.6" y="716.8" width="27.399999999999977" height="14" fill="#0000ff"/></g>
<clipPath id="cl5"><rect x="581.2" y="737" width="110.39999999999998" height="14" rx="3"/><rect x="693.1" y="737" width="54.89999999999998" height="14" rx="3"/></clipPath>
<g clip-path="url(#cl5)"><rect x="581" y="737" width="168" height="14" fill="url(#dots)"/><rect x="636.1" y="737" width="27.399999999999977" height="14" fill="#0000ff"/></g>
<clipPath id="cl6"><rect x="581.2" y="756.8" width="110.39999999999998" height="14" rx="3"/><rect x="693.1" y="756.8" width="54.89999999999998" height="14" rx="3"/></clipPath>
<g clip-path="url(#cl6)"><rect x="581" y="756.8" width="168" height="14" fill="url(#dots)"/><rect x="693.1" y="756.8" width="27.5" height="14" fill="#0000ff"/></g>
<clipPath id="cl7"><rect x="581.2" y="776.3" width="110.39999999999998" height="14" rx="3"/><rect x="693.1" y="776.3" width="54.89999999999998" height="14" rx="3"/></clipPath>
<g clip-path="url(#cl7)"><rect x="581" y="776.3" width="168" height="14" fill="url(#dots)"/><rect x="581.2" y="776.3" width="27.399999999999977" height="14" fill="#0000ff"/><rect x="663.5" y="776.3" width="28.100000000000023" height="14" fill="#0000ff"/><rect x="720.6" y="776.3" width="27.399999999999977" height="14" fill="#0000ff"/></g>
<clipPath id="cl8"><rect x="581.2" y="796.2" width="110.39999999999998" height="14" rx="3"/><rect x="693.1" y="796.2" width="54.89999999999998" height="14" rx="3"/></clipPath>
<g clip-path="url(#cl8)"><rect x="581" y="796.2" width="168" height="14" fill="url(#dots)"/><rect x="608.6" y="796.2" width="54.89999999999998" height="14" fill="#0000ff"/></g>
<clipPath id="cl9"><rect x="581.2" y="815.7" width="110.39999999999998" height="14" rx="3"/><rect x="693.1" y="815.7" width="54.89999999999998" height="14" rx="3"/></clipPath>
<g clip-path="url(#cl9)"><rect x="581" y="815.7" width="168" height="14" fill="url(#dots)"/><rect x="636.1" y="815.7" width="27.399999999999977" height="14" fill="#0000ff"/><rect x="693.1" y="815.7" width="27.5" height="14" fill="#0000ff"/></g>
<rect x="579.5" y="842.5" width="14.5" height="13.5" fill="#0000ff" stroke="#333" stroke-width="0.8"/>
<text x="598" y="856" font-family="Liberation Sans" font-size="17" fill="#000">African</text>
<rect x="661.5" y="842.5" width="14" height="13.5" fill="url(#dots)" stroke="#333" stroke-width="0.8"/>
<text x="680" y="856" font-family="Liberation Sans" font-size="17" fill="#000">European</text>
<text x="2.5" y="17.5" font-family="Liberation Sans" font-weight="bold" font-size="32" fill="#000">a</text>
<text x="2.5" y="439" font-family="Liberation Sans" font-weight="bold" font-size="31" fill="#000">b</text>
<text x="511" y="439" font-family="Liberation Sans" font-weight="bold" font-size="32" fill="#000">c</text>
</svg>
</body></html>
